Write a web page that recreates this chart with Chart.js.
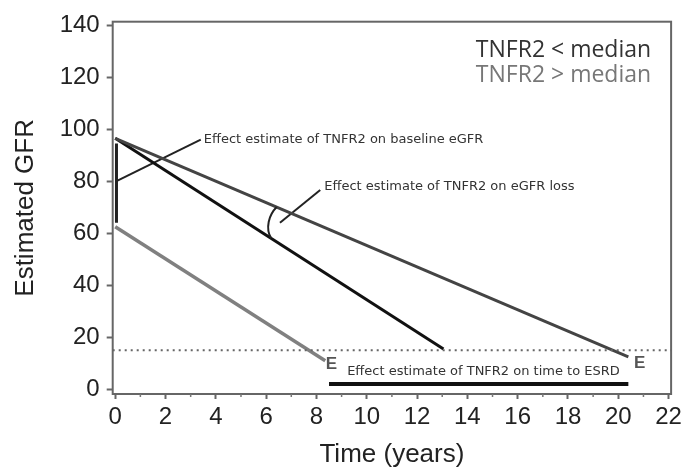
<!DOCTYPE html>
<html>
<head>
<meta charset="utf-8">
<script src="https://cdn.jsdelivr.net/npm/chart.js@4"></script>
<style>
  html, body { margin: 0; padding: 0; background: #fff; }
  #gfrChart { display: block; }
</style>
</head>
<body>
<canvas id="gfrChart" width="686" height="469"></canvas>
<script>
'use strict';

// axis limits and tick labels
const xLimits = [-0.1, 22.1];
const yLimits = [-1.8, 141.3];
const xTicks = [0, 2, 4, 6, 8, 10, 12, 14, 16, 18, 20, 22];
const xMinorTicks = [1, 3, 5, 7, 9, 11, 13, 15, 17, 19, 21];
const yTicks = [0, 20, 40, 60, 80, 100, 120, 140];

// series (time in years, eGFR)
const timeBelow = [0, 20.4];
const gfrBelow = [96.5, 12.5];
const timeSteep = [0, 13.05];
const gfrSteep = [96.5, 15.5];
const timeAbove = [0, 8.35];
const gfrAbove = [62.5, 11];

// annotation marks
const esrdLevel = 15;
const baselineBar = [64, 94.5];        // eGFR range at t=0
const baselineLeader = [[0.05, 80], [3.4, 96]];
const lossLeader = [[6.55, 64], [8.15, 76.6]];
const lossBracket = [6.42, 6.2];       // years on the two slopes
const esrdBar = [8.5, 20.4];           // years
const esrdBarLevel = 2;

const legendLabels = ['TNFR2 < median', 'TNFR2 > median'];
const noteTexts = [
  'Effect estimate of TNFR2 on baseline eGFR',
  'Effect estimate of TNFR2 on eGFR loss',
  'Effect estimate of TNFR2 on time to ESRD'
];
const noteAnchors = [[3.52, 96], [8.31, 77.8], [14.64, 6.8]];
const endMarks = [[8.6, 9.6], [20.85, 10]];

const toPoints = (xs, ys) => xs.map((x, i) => ({ x: x, y: ys[i] }));
const along = (ts, gs, t) => gs[0] + (gs[1] - gs[0]) * (t - ts[0]) / (ts[1] - ts[0]);

// box, minor ticks, bracket, texts and legend
const decorPlugin = {
  id: 'decor',
  beforeDatasetsDraw(chart) {
    const { ctx, chartArea: a } = chart;
    ctx.save();
    ctx.strokeStyle = '#666';
    ctx.lineWidth = 2;
    ctx.strokeRect(a.left, a.top, a.right - a.left, a.bottom - a.top);
    const xs = chart.scales.x;
    ctx.lineWidth = 1.5;
    ctx.strokeStyle = '#777';
    xMinorTicks.forEach((t) => {
      const px = xs.getPixelForValue(t);
      ctx.beginPath();
      ctx.moveTo(px, a.bottom);
      ctx.lineTo(px, a.bottom + 3);
      ctx.stroke();
    });
    ctx.restore();
  },
  afterDatasetsDraw(chart) {
    const { ctx, chartArea: a } = chart;
    const xs = chart.scales.x;
    const ys = chart.scales.y;
    ctx.save();

    // curved bracket between the two slopes
    const x1 = xs.getPixelForValue(lossBracket[0]);
    const y1 = ys.getPixelForValue(along(timeBelow, gfrBelow, lossBracket[0]));
    const x2 = xs.getPixelForValue(lossBracket[1]);
    const y2 = ys.getPixelForValue(along(timeSteep, gfrSteep, lossBracket[1]));
    ctx.strokeStyle = '#222';
    ctx.lineWidth = 2;
    ctx.beginPath();
    ctx.moveTo(x1, y1);
    ctx.bezierCurveTo(x1 - 8, y1 + 8, x2 - 6, y2 - 10, x2, y2);
    ctx.stroke();

    ctx.fillStyle = '#333';
    ctx.font = '13px "DejaVu Sans"';
    ctx.textBaseline = 'middle';
    noteTexts.forEach((t, i) => {
      ctx.textAlign = i === 2 ? 'center' : 'left';
      ctx.fillText(t, xs.getPixelForValue(noteAnchors[i][0]), ys.getPixelForValue(noteAnchors[i][1]));
    });

    ctx.fillStyle = '#555';
    ctx.font = 'bold 17px "Liberation Sans", Arial';
    ctx.textAlign = 'center';
    endMarks.forEach((m) => {
      ctx.fillText('E', xs.getPixelForValue(m[0]), ys.getPixelForValue(m[1]));
    });

    ctx.font = '23px "Open Sans"';
    ctx.textAlign = 'right';
    ctx.fillStyle = '#333';
    ctx.fillText(legendLabels[0], a.right - 20, a.top + 29);
    ctx.fillStyle = '#777';
    ctx.fillText(legendLabels[1], a.right - 20, a.top + 54);
    ctx.restore();
  }
};

const ctx = document.getElementById('gfrChart').getContext('2d');

const chart = new Chart(ctx, {
  type: 'line',
  data: {
    datasets: [
      {
        label: 'ESRD threshold',
        data: toPoints(xLimits, [esrdLevel, esrdLevel]),
        borderColor: '#666',
        borderWidth: 2,
        borderDash: [2, 4]
      },
      {
        label: legendLabels[0],
        data: toPoints(timeBelow, gfrBelow),
        borderColor: '#444',
        borderWidth: 3
      },
      {
        label: 'Steeper loss',
        data: toPoints(timeSteep, gfrSteep),
        borderColor: '#111',
        borderWidth: 3
      },
      {
        label: legendLabels[1],
        data: toPoints(timeAbove, gfrAbove),
        borderColor: '#808080',
        borderWidth: 3.5
      },
      {
        label: 'Baseline effect',
        data: toPoints([0.05, 0.05], baselineBar),
        borderColor: '#222',
        borderWidth: 3
      },
      {
        label: 'Baseline leader',
        data: baselineLeader.map((p) => ({ x: p[0], y: p[1] })),
        borderColor: '#222',
        borderWidth: 2
      },
      {
        label: 'Loss leader',
        data: lossLeader.map((p) => ({ x: p[0], y: p[1] })),
        borderColor: '#222',
        borderWidth: 2
      },
      {
        label: 'Time to ESRD',
        data: toPoints(esrdBar, [esrdBarLevel, esrdBarLevel]),
        borderColor: '#111',
        borderWidth: 4
      }
    ]
  },
  options: {
    responsive: false,
    animation: false,
    elements: {
      point: { radius: 0, hoverRadius: 0 },
      line: { tension: 0, borderCapStyle: 'butt' }
    },
    layout: {
      padding: { top: 21.7, right: 13, left: 0, bottom: 0 }
    },
    plugins: {
      legend: { display: false },
      tooltip: { enabled: false }
    },
    scales: {
      x: {
        type: 'linear',
        min: xLimits[0],
        max: xLimits[1],
        afterFit: (scale) => { scale.height = 75; },
        afterBuildTicks: (scale) => { scale.ticks = xTicks.map((v) => ({ value: v })); },
        border: { display: false },
        grid: {
          drawOnChartArea: false,
          drawTicks: true,
          tickLength: 5,
          tickWidth: 2,
          tickColor: '#666'
        },
        ticks: {
          padding: 4,
          color: '#222',
          maxRotation: 0,
          font: { family: '"Liberation Sans", Arial', size: 24 }
        },
        title: {
          display: true,
          text: 'Time (years)',
          color: '#222',
          font: { family: '"Liberation Sans", Arial', size: 26, lineHeight: 1 },
          padding: { top: 0, bottom: 1 }
        }
      },
      y: {
        min: yLimits[0],
        max: yLimits[1],
        afterFit: (scale) => { scale.width = 112.7; },
        afterBuildTicks: (scale) => { scale.ticks = yTicks.map((v) => ({ value: v })); },
        border: { display: false },
        grid: {
          drawOnChartArea: false,
          drawTicks: true,
          tickLength: 6,
          tickWidth: 2,
          tickColor: '#666'
        },
        ticks: {
          padding: 7,
          color: '#222',
          font: { family: '"Liberation Sans", Arial', size: 24 }
        },
        title: {
          display: true,
          text: 'Estimated GFR',
          color: '#222',
          font: { family: '"Liberation Sans", Arial', size: 26, lineHeight: 1 },
          padding: { top: 13, bottom: 0 }
        }
      }
    }
  },
  plugins: [decorPlugin]
});
</script>
</body>
</html>
